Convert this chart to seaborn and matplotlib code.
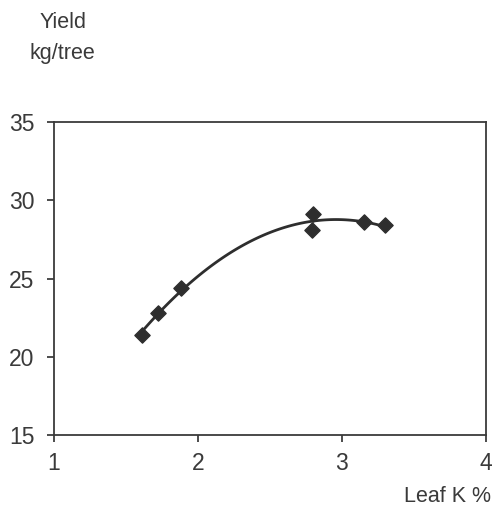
import numpy as np
import pandas as pd
import matplotlib.pyplot as plt
import seaborn as sns

# leaf K % vs yield (kg/tree)
leaf_k = [1.61, 1.72, 1.88, 2.79, 2.80, 3.15, 3.30]
yield_kg = [21.4, 22.8, 24.4, 28.1, 29.1, 28.6, 28.4]

x_ticks = [1, 2, 3, 4]
y_ticks = [15, 20, 25, 30, 35]

df = pd.DataFrame({'leaf_k': leaf_k, 'yield_kg': yield_kg})

sns.set_style('white')
plt.rcParams['font.family'] = ['Liberation Sans', 'DejaVu Sans']

fig = plt.figure(figsize=(4.97, 5.07), dpi=100)
ax = fig.add_axes([0.1087, 0.142, 0.869, 0.617])

ink = '#2e2e2e'
sns.regplot(x='leaf_k', y='yield_kg', data=df, order=2, ci=None, ax=ax,
            marker='D', scatter_kws={'s': 60, 'color': ink, 'alpha': 1, 'zorder': 3},
            line_kws={'color': ink, 'lw': 2})

ax.set_xlim(1, 4)
ax.set_ylim(15, 35)
ax.set_xticks(x_ticks)
ax.set_yticks(y_ticks)
ax.set_xlabel('')
ax.set_ylabel('')
ax.tick_params(axis='both', bottom=True, left=True, direction='out', length=5,
               width=1.2, colors=ink, labelsize=16.5, labelcolor='#3a3a3a')
ax.tick_params(axis='x', pad=7)
ax.tick_params(axis='y', pad=9)
for s in ax.spines.values():
    s.set_color('#3a3a3a')
    s.set_linewidth(1.3)

txt = dict(fontsize=15.5, color='#3a3a3a', ha='center', va='center')
fig.text(0.127, 0.955, 'Yield', **txt)
fig.text(0.125, 0.895, 'kg/tree', **txt)
fig.text(0.901, 0.020, 'Leaf K %', **txt)

fig.savefig('out.png', dpi=100)
